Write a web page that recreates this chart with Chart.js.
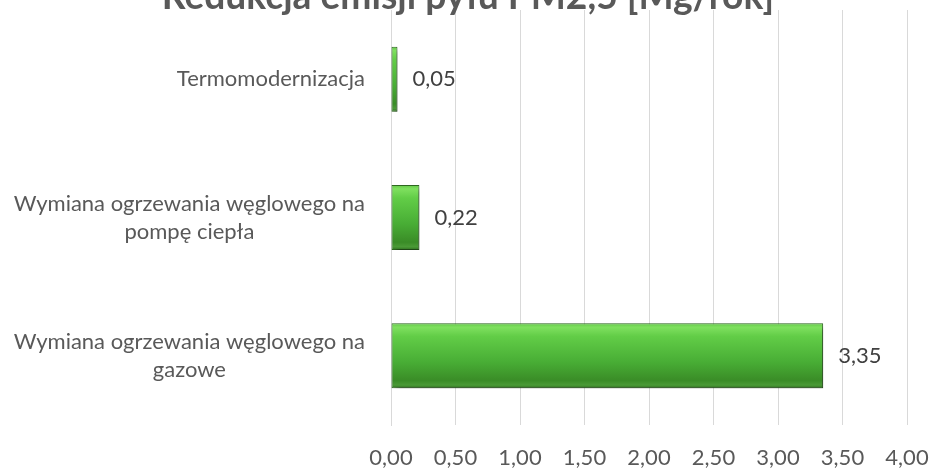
<!DOCTYPE html>
<html>
<head>
<meta charset="utf-8">
<script src="https://cdn.jsdelivr.net/npm/chart.js@4"></script>
<style>
  html, body { margin: 0; padding: 0; background: #fff; }
  #wrap { width: 931px; height: 468px; }
</style>
</head>
<body>
<div id="wrap"><canvas id="chart" width="931" height="468"></canvas></div>
<script>
const title = "Redukcja emisji pyłu PM2,5 [Mg/rok]"
const categories = [
  ["Termomodernizacja"],
  ["Wymiana ogrzewania węglowego na", "pompę ciepła"],
  ["Wymiana ogrzewania węglowego na", "gazowe"]
]
const values = [0.05, 0.22, 3.35]
const xMin = 0
const xMax = 4
const xStep = 0.5

const FONT = "Lato, 'Open Sans', sans-serif"
const TEXT = "#595959"
const GRID = "#d9d9d9"
const BAR_PCT = 0.47

const fmt = (v) => v.toFixed(2).replace(".", ",")

// gradient per bar, placed from the category scale
function barFill(ctx) {
  const chart = ctx.chart
  const y = chart.scales.y
  if (!chart.chartArea || !y) return "#4cb638"
  const cy = y.getPixelForValue(ctx.dataIndex)
  const h = (chart.chartArea.height / categories.length) * BAR_PCT
  const top = cy - h / 2
  const g = chart.ctx.createLinearGradient(0, top, 0, top + h)
  g.addColorStop(0, "#62c847")
  g.addColorStop(0.06, "#7fe05f")
  g.addColorStop(0.2, "#62cd47")
  g.addColorStop(0.6, "#48ad35")
  g.addColorStop(0.88, "#3a8c27")
  g.addColorStop(0.95, "#4a9a36")
  g.addColorStop(1, "#2e6e1f")
  return g
}

const shadowPlugin = {
  id: "barShadow",
  beforeDatasetsDraw(chart) {
    const c = chart.ctx
    c.save()
    c.shadowColor = "rgba(0,0,0,0.45)"
    c.shadowBlur = 5
    c.shadowOffsetX = 3
    c.shadowOffsetY = 3
  },
  afterDatasetsDraw(chart) {
    chart.ctx.restore()
  }
}

const valueLabels = {
  id: "valueLabels",
  afterDatasetsDraw(chart) {
    const c = chart.ctx
    const meta = chart.getDatasetMeta(0)
    c.save()
    c.font = "22px " + FONT
    c.fillStyle = "#404040"
    c.textAlign = "left"
    c.textBaseline = "middle"
    meta.data.forEach((bar, i) => {
      c.fillText(fmt(values[i]), bar.x + 15, bar.y)
    })
    c.restore()
  }
}

// category labels: lines centred on each other, block right-aligned to the axis
const categoryLabels = {
  id: "categoryLabels",
  afterDraw(chart) {
    const c = chart.ctx
    const y = chart.scales.y
    const right = chart.chartArea.left - 26
    const lh = 28
    c.save()
    c.font = "22px " + FONT
    c.fillStyle = TEXT
    c.textAlign = "center"
    c.textBaseline = "middle"
    categories.forEach((lines, i) => {
      const w = Math.max(...lines.map((l) => c.measureText(l).width))
      const cx = right - w / 2
      const cy = y.getPixelForValue(i)
      lines.forEach((l, j) => {
        c.fillText(l, cx, cy + (j - (lines.length - 1) / 2) * lh)
      })
    })
    c.restore()
  }
}

const topTitle = {
  id: "topTitle",
  afterDraw(chart) {
    const c = chart.ctx
    c.save()
    c.font = "bold 26px " + FONT
    const w = c.measureText(title).width
    const size = 26 * 613 / w
    c.font = "bold " + size.toFixed(1) + "px " + FONT
    c.fillStyle = TEXT
    c.textAlign = "center"
    c.textBaseline = "alphabetic"
    c.fillText(title, 468, 9)
    c.restore()
  }
}

new Chart(document.getElementById("chart"), {
  type: "bar",
  data: {
    labels: categories,
    datasets: [{
      data: values,
      backgroundColor: barFill,
      borderColor: "#2f6a21",
      borderWidth: 1,
      borderSkipped: false,
      barPercentage: BAR_PCT,
      categoryPercentage: 1
    }]
  },
  options: {
    indexAxis: "y",
    responsive: false,
    animation: false,
    events: [],
    layout: { padding: { left: 0, top: 10, right: 24, bottom: 0 } },
    plugins: { legend: { display: false }, title: { display: false }, tooltip: { enabled: false } },
    scales: {
      x: {
        min: xMin,
        max: xMax,
        grid: { color: GRID, drawTicks: false, lineWidth: 1 },
        border: { display: false },
        ticks: {
          stepSize: xStep,
          padding: 20,
          color: TEXT,
          font: { family: FONT, size: 22 },
          callback: (v) => fmt(v)
        },
        afterFit: (s) => { s.height = 43; s.paddingLeft = 0; s.paddingRight = 0 }
      },
      y: {
        grid: { display: false },
        border: { display: true, color: GRID },
        ticks: { display: false },
        afterFit: (s) => { s.width = 391 }
      }
    }
  },
  plugins: [shadowPlugin, valueLabels, categoryLabels, topTitle]
})
</script>
</body>
</html>
